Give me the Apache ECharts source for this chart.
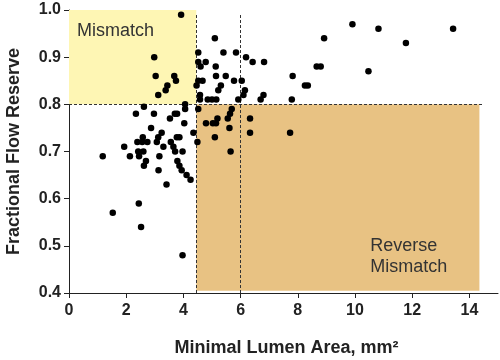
<!DOCTYPE html>
<html>
<head>
<meta charset="utf-8">
<script src="https://cdn.jsdelivr.net/npm/echarts@6/dist/echarts.min.js"></script>
<style>html,body{margin:0;padding:0;background:#fff}#c{width:500px;height:360px}</style>
</head>
<body>
<div id="c"></div>
<script>
// Minimal Lumen Area (mm²) vs Fractional Flow Reserve
const points = [
  [3.92,0.99],[2.98,0.90],[3.03,0.86],[3.68,0.86],[3.74,0.85],[3.44,0.84],[3.38,0.83],[3.12,0.82],
  [4.52,0.91],[5.10,0.94],[5.40,0.91],[5.84,0.91],[4.52,0.89],[4.78,0.89],[4.60,0.88],[6.19,0.90],
  [6.42,0.89],[6.82,0.89],[5.13,0.88],[4.52,0.85],[4.67,0.85],[4.46,0.84],[5.14,0.86],[5.48,0.86],
  [5.77,0.85],[6.04,0.85],[5.31,0.84],[5.22,0.83],[6.15,0.83],[6.10,0.82],[6.80,0.82],[6.70,0.81],
  [4.58,0.82],[4.58,0.81],[4.85,0.81],[5.00,0.81],[5.15,0.81],[5.92,0.81],[4.06,0.80],
  [7.82,0.86],[7.79,0.81],[8.25,0.84],[8.35,0.84],[8.66,0.88],[8.80,0.88],[8.92,0.94],[9.91,0.97],
  [10.82,0.96],[11.78,0.93],[13.43,0.96],[10.47,0.87],
  [2.62,0.795],[2.34,0.78],[2.97,0.78],[4.06,0.79],[3.53,0.77],[3.70,0.78],[3.78,0.78],[4.03,0.76],
  [2.87,0.75],[3.24,0.74],[4.35,0.74],[2.58,0.73],[2.39,0.72],[2.56,0.72],[2.74,0.72],[3.12,0.73],
  [3.07,0.72],[3.77,0.73],[3.86,0.73],[3.56,0.72],[1.93,0.71],[3.30,0.71],[3.65,0.71],[2.42,0.70],
  [2.60,0.70],[3.71,0.70],[3.97,0.70],[1.18,0.69],[2.13,0.69],[2.45,0.69],[3.16,0.69],[3.79,0.68],
  [2.69,0.68],[2.62,0.67],[3.86,0.67],[3.94,0.66],[3.13,0.66],[4.11,0.65],[4.25,0.64],[3.41,0.63],
  [2.44,0.59],[1.53,0.57],[2.52,0.54],[3.97,0.48],[4.49,0.72],
  [4.52,0.79],[5.69,0.79],[5.63,0.78],[5.19,0.77],[5.55,0.77],[6.33,0.77],[4.79,0.76],[5.03,0.76],
  [5.14,0.76],[5.61,0.75],[6.33,0.74],[7.73,0.74],[5.10,0.73],[5.65,0.70]
];
const xTicks = [0, 2, 4, 6, 8, 10, 12, 14];
const yTicks = [0.4, 0.5, 0.6, 0.7, 0.8, 0.9, 1.0];
const mismatchArea = [[0, 0.8], [4.45, 1.0]];
const reverseArea = [[4.45, 0.405], [14.35, 0.8]];
const hLine = [[0, 0.8], [14.45, 0.8]];
const vLineA = [[4.45, 0.4], [4.45, 0.99]];
const vLineB = [[6.0, 0.4], [6.0, 0.99]];

const chart = echarts.init(document.getElementById('c'));
const fontBold = {fontFamily: 'Liberation Sans, Arial, sans-serif', fontWeight: 'bold', color: '#222'};
const dashed = {color: '#333', width: 1, type: [3, 2]};
chart.setOption({
  animation: false,
  grid: {left: 69, top: 10, width: 429, height: 283, containLabel: false, outerBoundsMode: 'none'},
  xAxis: {
    type: 'value', min: 0, max: 15, interval: 2,
    name: 'Minimal Lumen Area, mm²', nameLocation: 'middle', nameGap: 46,
    nameTextStyle: Object.assign({fontSize: 18, padding: [0, 0, 0, 6]}, fontBold),
    axisLine: {show: true, lineStyle: {color: '#222', width: 1}},
    axisTick: {show: true, length: 5, lineStyle: {color: '#222'}, customValues: xTicks},
    axisLabel: Object.assign({fontSize: 16, margin: 10, customValues: xTicks}, fontBold),
    splitLine: {show: false}
  },
  yAxis: {
    type: 'value', min: 0.4, max: 1.0, interval: 0.1,
    name: 'Fractional Flow Reserve', nameLocation: 'middle', nameGap: 46,
    nameTextStyle: Object.assign({fontSize: 18}, fontBold),
    axisLine: {show: true, lineStyle: {color: '#222', width: 1}},
    axisTick: {show: true, length: 5, lineStyle: {color: '#222'}},
    axisLabel: Object.assign({fontSize: 16, margin: 8, formatter: v => v.toFixed(1)}, fontBold),
    splitLine: {show: false}
  },
  series: [{
    type: 'scatter',
    data: points,
    symbolSize: 6.5,
    itemStyle: {color: '#000', opacity: 1},
    z: 5,
    markArea: {
      silent: true,
      data: [
        [{coord: mismatchArea[0], itemStyle: {color: '#FEF6B4', opacity: 1},
          label: {show: true, position: [8, 12], formatter: 'Mismatch', fontSize: 18,
                  fontFamily: 'Liberation Sans, Arial, sans-serif', color: '#333'}},
         {coord: mismatchArea[1]}],
        [{coord: reverseArea[0], itemStyle: {color: '#E8C283', opacity: 1},
          label: {show: true, position: [174, 131], formatter: 'Reverse\nMismatch', fontSize: 18,
                  lineHeight: 21, align: 'left',
                  fontFamily: 'Liberation Sans, Arial, sans-serif', color: '#333'}},
         {coord: reverseArea[1]}]
      ]
    },
    markLine: {
      silent: true, symbol: 'none', label: {show: false},
      lineStyle: dashed,
      data: [
        [{coord: hLine[0]}, {coord: hLine[1]}],
        [{coord: vLineA[0]}, {coord: vLineA[1]}],
        [{coord: vLineB[0]}, {coord: vLineB[1]}]
      ]
    }
  }]
});
</script>
</body>
</html>
